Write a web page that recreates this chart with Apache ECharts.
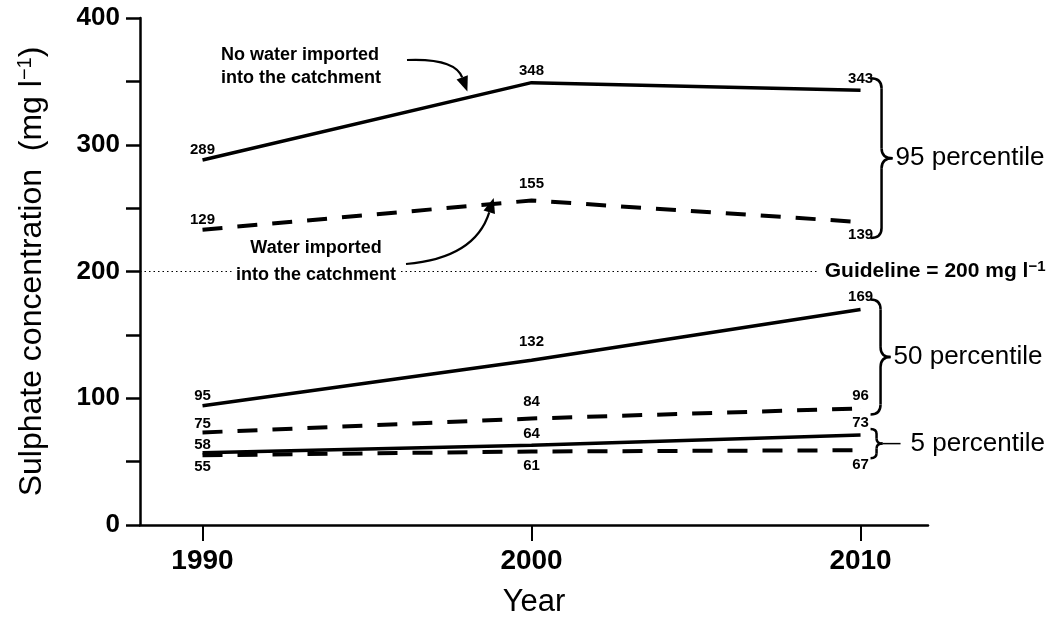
<!DOCTYPE html>
<html><head><meta charset="utf-8">
<script src="https://cdn.jsdelivr.net/npm/echarts@6/dist/echarts.min.js"></script>
<style>html,body{margin:0;padding:0;background:#fff}#c{width:1058px;height:624px}</style>
</head><body><div id="c"></div>
<script>
// ---- data ----
const years = [1990, 2000, 2010];
const xTicks = [1990, 2000, 2010];
const yTicks = [0, 100, 200, 300, 400];
// plotted line positions
const noImport95 = [288, 349, 343];
const imported95 = [233, 256, 239];
const noImport50 = [94, 130, 170];
const imported50 = [73, 84, 92];
const noImport5 = [57, 63, 71];
const imported5 = [55, 58, 59];
// printed value labels (as in the figure)
const lblNoImport95 = ['289', '348', '343'];
const lblImported95 = ['129', '155', '139'];
const lblNoImport50 = ['95', '132', '169'];
const lblImported50 = ['75', '84', '96'];
const lblNoImport5 = ['58', '64', '73'];
const lblImported5 = ['55', '61', '67'];
const guideline = 200;
const guidelineEndYear = 2008.7;

const FONT = 'Liberation Sans, Arial, sans-serif';
const chart = echarts.init(document.getElementById('c'), null, {renderer: 'canvas'});

function mkSeries(name, vals, lbls, dashed, positions, dist) {
  return {
    name: name, type: 'line', symbol: 'circle', symbolSize: 0.1, showSymbol: true,
    lineStyle: {color: '#000', width: dashed ? 4 : 3.5, type: dashed ? [20, 15] : 'solid', cap: 'butt'},
    itemStyle: {color: '#000'},
    emphasis: {disabled: true},
    data: years.map((y, i) => ({
      value: [y, vals[i]],
      label: {show: true, position: positions[i], distance: dist[i], formatter: lbls[i],
        fontFamily: FONT, fontSize: 15, fontWeight: 'bold', color: '#000'}
    })),
    z: 3
  };
}

const series = [
  mkSeries('noImport95', noImport95, lblNoImport95, false, ['top', 'top', 'top'], [3, 4, 4]),
  mkSeries('imported95', imported95, lblImported95, true, ['top', 'top', 'bottom'], [2, 9, 5]),
  mkSeries('noImport50', noImport50, lblNoImport50, false, ['top', 'top', 'top'], [2, 11, 5]),
  mkSeries('imported50', imported50, lblImported50, true, ['top', 'top', 'top'], [1, 9, 5]),
  mkSeries('noImport5', noImport5, lblNoImport5, false, ['top', 'top', 'top'], [0, 4, 5]),
  mkSeries('imported5', imported5, lblImported5, true, ['bottom', 'bottom', 'bottom'], [4, 7, 7])
];
series[0].markLine = {
  silent: true, symbol: 'none',
  lineStyle: {color: '#000', type: [1.5, 3], width: 1},
  label: {show: true, position: 'end', distance: 7, formatter: '{a|Guideline = 200 mg l}{s|−1}',
    rich: {a: {fontFamily: FONT, fontSize: 21, fontWeight: 'bold', color: '#000'},
           s: {fontFamily: FONT, fontSize: 15, fontWeight: 'bold', color: '#000', verticalAlign: 'top', padding: [0, 0, 10, 0]}}},
  data: [[{coord: [1988.1, guideline]}, {coord: [guidelineEndYear, guideline]}]]
};

chart.setOption({
  animation: false,
  backgroundColor: '#fff',
  grid: {left: 140, right: 130, top: 18, bottom: 99, containLabel: false, outerBoundsMode: 'none'},
  xAxis: {
    type: 'value', min: 1988.1, max: 2012.05,
    name: 'Year', nameLocation: 'middle', nameGap: 62,
    nameTextStyle: {fontFamily: FONT, fontSize: 31, color: '#000'},
    axisLine: {show: true, onZero: false, lineStyle: {color: '#000', width: 2.5}},
    axisTick: {show: true, inside: false, length: 16, customValues: xTicks, lineStyle: {color: '#000', width: 2}},
    axisLabel: {customValues: xTicks, margin: 22, fontFamily: FONT, fontSize: 28, fontWeight: 'bold', color: '#000', formatter: v => String(v)},
    splitLine: {show: false}
  },
  yAxis: {
    type: 'value', min: 0, max: 400, interval: 50,
    name: '{a|Sulphate concentration  (mg l}{s|−1}{a|)}', nameLocation: 'middle', nameGap: 90,
    nameTextStyle: {rich: {
      a: {fontFamily: FONT, fontSize: 32, color: '#000'},
      s: {fontFamily: FONT, fontSize: 20, color: '#000', verticalAlign: 'top', padding: [0, 0, 15, 0]}}},
    axisLine: {show: true, lineStyle: {color: '#000', width: 2.5}},
    axisTick: {show: true, inside: false, length: 14, lineStyle: {color: '#000', width: 2.5}},
    axisLabel: {margin: 20, fontFamily: FONT, fontSize: 26, fontWeight: 'bold', color: '#000',
      formatter: v => (yTicks.indexOf(v) >= 0 ? String(v) : '')},
    splitLine: {show: false}
  },
  series: series
});

// ---- annotations: braces, arrows, texts (positioned from data via the axes) ----
const px = (x, y) => chart.convertToPixel({gridIndex: 0}, [x, y]);
const stroke = {stroke: '#000', lineWidth: 2.5, fill: null};
function brace(x, y1, y2, ym, w) {
  const r = Math.min(10, (y2 - y1) / 6);
  const xm = x + w / 2;
  return [
    {type: 'bezierCurve', shape: {x1: x, y1: y1, cpx1: xm, cpy1: y1, x2: xm, y2: y1 + r}, style: stroke, silent: true},
    {type: 'line', shape: {x1: xm, y1: y1 + r, x2: xm, y2: ym - r}, style: stroke, silent: true},
    {type: 'bezierCurve', shape: {x1: xm, y1: ym - r, cpx1: xm, cpy1: ym, x2: x + w, y2: ym}, style: stroke, silent: true},
    {type: 'bezierCurve', shape: {x1: x + w, y1: ym, cpx1: xm, cpy1: ym, x2: xm, y2: ym + r}, style: stroke, silent: true},
    {type: 'line', shape: {x1: xm, y1: ym + r, x2: xm, y2: y2 - r}, style: stroke, silent: true},
    {type: 'bezierCurve', shape: {x1: xm, y1: y2 - r, cpx1: xm, cpy1: y2, x2: x, y2: y2}, style: stroke, silent: true}
  ];
}
function arrow(start, cp, tip) {
  const dx = tip[0] - cp[0], dy = tip[1] - cp[1];
  const L = Math.sqrt(dx * dx + dy * dy), ux = dx / L, uy = dy / L;
  const hl = 15, hw = 6;
  const bx = tip[0] - ux * hl, by = tip[1] - uy * hl;
  return [
    {type: 'bezierCurve', shape: {x1: start[0], y1: start[1], cpx1: cp[0], cpy1: cp[1], x2: bx, y2: by},
     style: {stroke: '#000', lineWidth: 2.2, fill: null}, silent: true},
    {type: 'polygon', shape: {points: [tip, [bx - uy * hw, by + ux * hw], [bx + uy * hw, by - ux * hw]]},
     style: {fill: '#000'}, silent: true}
  ];
}
const xEnd = px(2010, 0)[0];
const bx = xEnd + 10;
const b95 = [px(2010, noImport95[2])[1] - 12, px(2010, imported95[2])[1] + 16];
const b50 = [px(2010, noImport50[2])[1] - 10, px(2010, imported50[2])[1] + 6];
const b5 = [px(2010, noImport5[2])[1] - 6, px(2010, imported5[2])[1] + 8];
const m95 = (b95[0] + b95[1]) / 2, m50 = (b50[0] + b50[1]) / 2, m5 = (b5[0] + b5[1]) / 2;
const txtStyle = (s, sz, w) => ({text: s, fontFamily: FONT, fontSize: sz, fontWeight: w || 'normal', fill: '#000'});

const tip1 = px(1998.05, 342), tip2 = px(1998.85, 258);
let graphic = [
  {type: 'line', shape: {x1: bx + 12, y1: m5, x2: bx + 30, y2: m5}, style: {stroke: '#000', lineWidth: 1.5}},
  {type: 'text', x: bx + 25, y: m95, style: Object.assign(txtStyle('95 percentile', 26), {verticalAlign: 'middle'})},
  {type: 'text', x: bx + 23, y: m50, style: Object.assign(txtStyle('50 percentile', 26), {verticalAlign: 'middle'})},
  {type: 'text', x: bx + 40, y: m5, style: Object.assign(txtStyle('5 percentile', 26), {verticalAlign: 'middle'})},
  {type: 'text', x: 221, y: 44, style: Object.assign(txtStyle('No water imported\ninto the catchment', 18, 'bold'), {lineHeight: 23})},
  {type: 'text', x: 316, y: 235, z: 10, style: Object.assign(txtStyle('Water imported\ninto the catchment', 18, 'bold'),
    {lineHeight: 27, align: 'center', backgroundColor: '#fff', padding: [0, 4]})}
];
graphic = graphic
  .concat(brace(bx, b95[0], b95[1], m95, 22))
  .concat(brace(bx, b50[0], b50[1], m50, 20))
  .concat(brace(bx, b5[0], b5[1], m5, 12))
  .concat(arrow([407, 60], [455, 58], tip1))
  .concat(arrow([406, 264], [475, 258], tip2));
chart.setOption({graphic: graphic});
</script>
</body></html>
